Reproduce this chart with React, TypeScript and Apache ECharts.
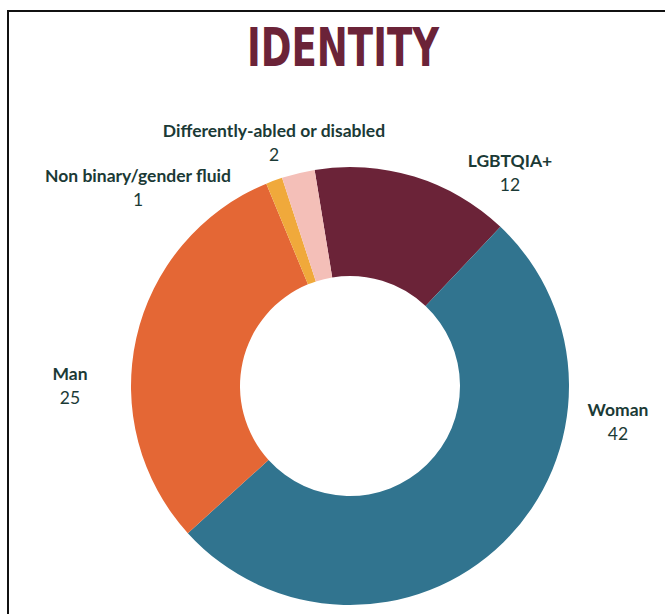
import React, { useEffect, useRef } from "react";
import * as echarts from "echarts";

const categories = [
  "LGBTQIA+",
  "Woman",
  "Man",
  "Non binary/gender fluid",
  "Differently-abled or disabled",
];
const values = [12, 42, 25, 1, 2];
const colors = ["#6b2338", "#31748f", "#e46735", "#f0a93b", "#f4bfb8"];
const titleText = "IDENTITY";

// label anchor positions (block centres), in pixels
const labelPositions: [number, number][] = [
  [510, 172],
  [618, 421],
  [70, 385],
  [138, 187],
  [274, 142],
];

export default function App() {
  const ref = useRef<HTMLDivElement>(null);
  useEffect(() => {
    if (!ref.current) return;
    const chart = echarts.init(ref.current, null, { renderer: "svg" });
    chart.setOption({
      animation: false,
      backgroundColor: "#ffffff",
      graphic: [
        {
          type: "rect",
          shape: { x: 8, y: 11, width: 720, height: 720 },
          style: { fill: "none", stroke: "#111111", lineWidth: 2 },
          silent: true,
        },
        {
          type: "text",
          x: 343,
          y: 48,
          scaleX: 0.7,
          style: {
            text: titleText,
            fill: "#6b2338",
            font: 'bold 53px "DejaVu Sans"',
            textAlign: "center",
            textVerticalAlign: "middle",
          },
        },
      ],
      series: [
        {
          type: "pie",
          center: [350, 386],
          radius: [110, 219],
          startAngle: 99.3,
          clockwise: true,
          avoidLabelOverlap: false,
          data: categories.map((name, i) => ({
            name,
            value: values[i],
            itemStyle: { color: colors[i] },
          })),
          label: {
            show: true,
            position: "outside",
            formatter: "{n|{b}}\n{v|{c}}",
            rich: {
              n: {
                fontFamily: "Lato",
                fontWeight: "bold",
                fontSize: 17.5,
                color: "#1b3a36",
                lineHeight: 24,
                align: "center",
              },
              v: {
                fontFamily: "Lato",
                fontWeight: "normal",
                fontSize: 17.5,
                color: "#1b3a36",
                lineHeight: 24,
                align: "center",
              },
            },
          },
          labelLine: { show: false },
          labelLayout: (params: any) => {
            const p = labelPositions[params.dataIndex];
            return { x: p[0], y: p[1], align: "center", verticalAlign: "middle" };
          },
          emphasis: { disabled: true },
        },
      ],
    });
    return () => chart.dispose();
  }, []);
  return (
    <div
      ref={ref}
      style={{ position: "absolute", left: 0, top: 0, width: 665, height: 614 }}
    />
  );
}
